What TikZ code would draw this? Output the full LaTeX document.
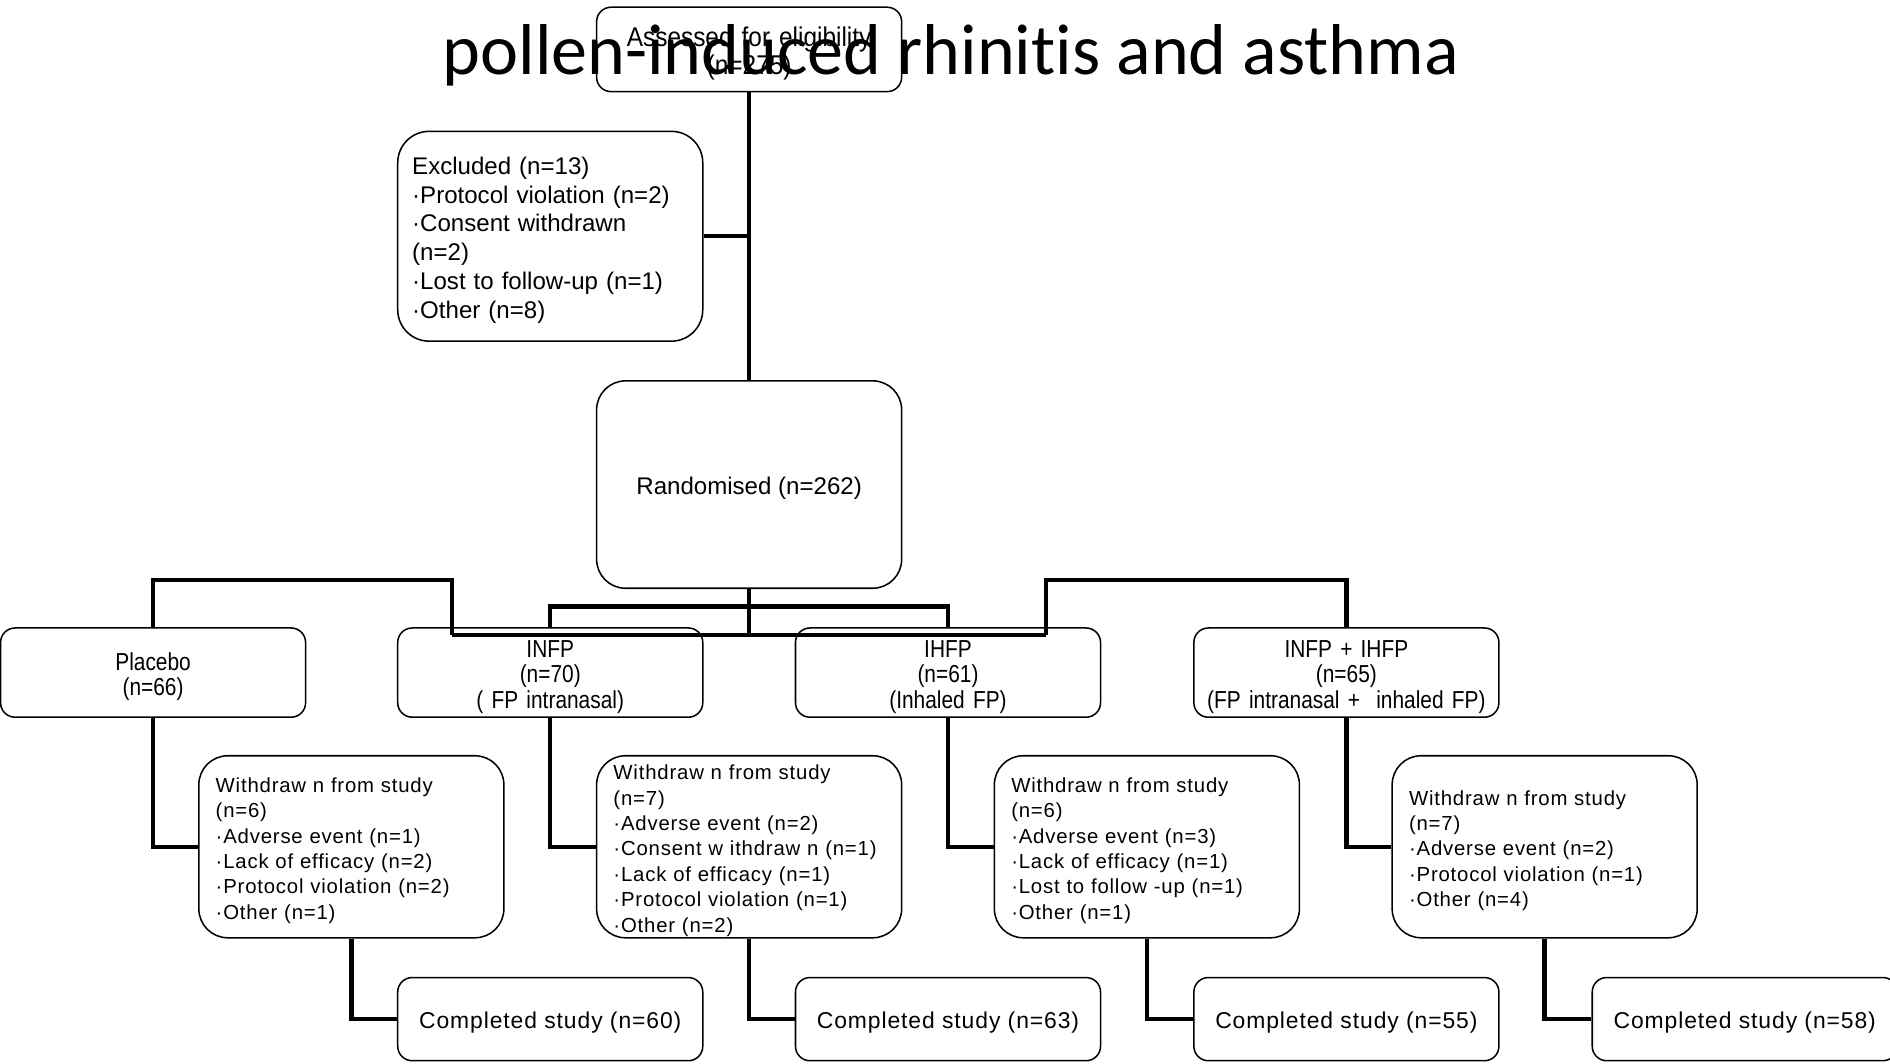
\documentclass[tikz,border=0pt]{standalone}
\usepackage{fontspec}
\setmainfont{Liberation Sans}
\newfontfamily\titlefont[Ligatures=NoCommon]{Carlito}
\newfontfamily\narrowfont[FakeStretch=0.85]{Liberation Sans}
\newfontfamily\assessfont[FakeStretch=0.9]{Liberation Sans}
\newfontfamily\spacedfont[LetterSpace=4]{Liberation Sans}
\usetikzlibrary{positioning,calc}

\begin{document}
\begin{tikzpicture}[x=0.025cm,y=-0.025cm,
		box/.style={draw,line width=0.9pt,fill=white,rounded corners=0.3cm,minimum width=6.325cm,inner sep=0pt,
			execute at begin node={\rule{0pt}{\dimexpr 0.75em+4.2pt\relax}}},
		bigbox/.style={box,rounded corners=0.65cm,align=left,text width=5.725cm,inner xsep=0.3cm,font=\fontsize{14.2}{17}\selectfont},
		armbox/.style={box,minimum height=1.85cm,align=center,text width=6.325cm,font=\narrowfont\fontsize{14.5}{15}\selectfont},
		wdbox/.style={box,rounded corners=0.6cm,minimum height=3.775cm,align=left,text width=5.625cm,inner xsep=0.35cm,font=\spacedfont\fontsize{12}{15}\selectfont},
		donebox/.style={box,minimum height=1.725cm,font=\spacedfont\fontsize{13.5}{16}\selectfont},
		link/.style={line width=2.6pt}]
	\useasboundingbox (0,0) rectangle (1568,882);
	
	\node[box,minimum height=1.75cm,align=center,text width=6.325cm,font=\assessfont\fontsize{16}{16.3}\selectfont] (assess) at (621.5,41) {Assessed for eligibility\\(n=275)};
	\node[bigbox,minimum height=4.35cm] (excl) at (456.5,196) {Excluded (n=13)\\·Protocol violation (n=2)\\·Consent withdrawn\\(n=2)\\·Lost to follow-up (n=1)\\·Other (n=8)};
	\node[box,rounded corners=0.6cm,minimum height=4.3cm,font=\fontsize{14.2}{17}\selectfont] (rand) at (621.5,402) {Randomised (n=262)};
	
	% treatment arms
	\node[armbox] (placebo) at (127,558) {Placebo\\(n=66)};
	\node[armbox] (infp) at (456.5,558) {INFP\\(n=70)\\( FP intranasal)};
	\node[armbox] (ihfp) at (786.5,558) {IHFP\\(n=61)\\(Inhaled FP)};
	\node[armbox] (both) at (1117,558) {INFP + IHFP\\(n=65)\\(FP intranasal +~ inhaled FP)};
	
	% withdrawals
	\node[wdbox] (wd1) at (291.5,702.5) {Withdraw n from study\\(n=6)\\·Adverse event (n=1)\\·Lack of efficacy (n=2)\\·Protocol violation (n=2)\\·Other (n=1)};
	\node[wdbox] (wd2) at (621.5,702.5) {Withdraw n from study\\(n=7)\\·Adverse event (n=2)\\·Consent w ithdraw n (n=1)\\·Lack of efficacy (n=1)\\·Protocol violation (n=1)\\·Other (n=2)};
	\node[wdbox] (wd3) at (951.5,702.5) {Withdraw n from study\\(n=6)\\·Adverse event (n=3)\\·Lack of efficacy (n=1)\\·Lost to follow -up (n=1)\\·Other (n=1)};
	\node[wdbox] (wd4) at (1281.5,702.5) {Withdraw n from study\\(n=7)\\·Adverse event (n=2)\\·Protocol violation (n=1)\\·Other (n=4)};
	
	% completers
	\node[donebox] (done1) at (456.5,845.5) {Completed study (n=60)};
	\node[donebox] (done2) at (786.5,845.5) {Completed study (n=63)};
	\node[donebox] (done3) at (1117,845.5) {Completed study (n=55)};
	\node[donebox] (done4) at (1447.5,845.5) {Completed study (n=58)};
	
	\coordinate (split) at (621.5,527);
	\coordinate (lsplit) at (375,527);
	\coordinate (rsplit) at (868,527);
	\coordinate (ltop) at (375,481);
	\coordinate (rtop) at (868,481);
	\coordinate (inner) at (621.5,503);
	
	\draw[link] (assess.south) -- (rand.north);
	\draw[link] (excl.east) -- (excl.east -| assess.south);
	\draw[link] (rand.south) -- (split);
	\draw[link] (lsplit) -- (rsplit);
	\draw[link] (lsplit) -- (ltop) -| (placebo.north);
	\draw[link] (rsplit) -- (rtop) -| (both.north);
	\draw[link] (infp.north) |- (inner) -| (ihfp.north);
	
	\foreach \arm/\wd/\done in {placebo/wd1/done1,infp/wd2/done2,ihfp/wd3/done3,both/wd4/done4} {
		\draw[link] (\arm.south) |- (\wd.west);
		\draw[link] (\wd.south) |- (\done.west);
	}
	
	\node[font=\titlefont\fontsize{42.5}{46}\selectfont,anchor=base] (title) at (789,62) {pollen-induced rhinitis and asthma};
\end{tikzpicture}
\end{document}
